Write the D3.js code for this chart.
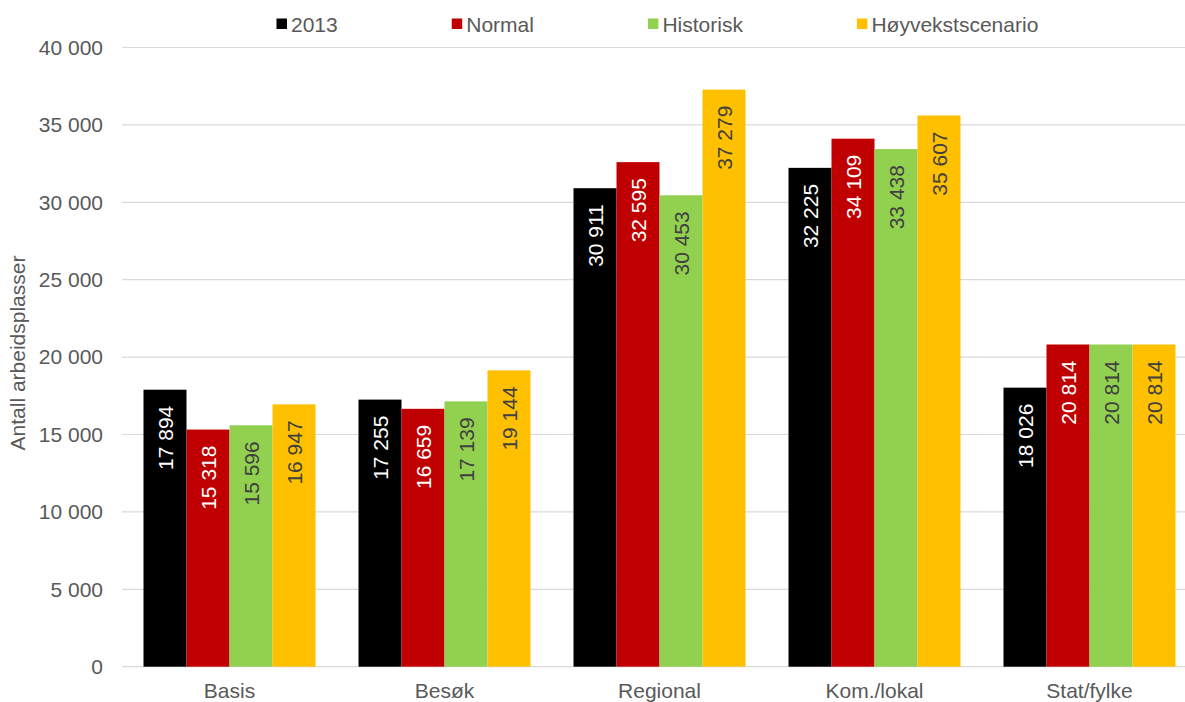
<!DOCTYPE html>
<html>
<head>
<meta charset="utf-8">
<script src="https://cdn.jsdelivr.net/npm/d3@7"></script>
<style>
  html, body { margin: 0; padding: 0; background: #fff; }
  svg { display: block; font-family: "Liberation Sans", Arial, sans-serif; }
</style>
</head>
<body>
<svg id="chart" width="1185" height="702"></svg>
<script>
// Arbeidsplasser per næringstype, 2013 og tre scenarioer
const categories = ["Basis", "Besøk", "Regional", "Kom./lokal", "Stat/fylke"];
const seriesNames = ["2013", "Normal", "Historisk", "Høyvekstscenario"];
const values2013 = [17894, 17255, 30911, 32225, 18026];
const valuesNormal = [15318, 16659, 32595, 34109, 20814];
const valuesHistorisk = [15596, 17139, 30453, 33438, 20814];
const valuesHoyvekst = [16947, 19144, 37279, 35607, 20814];
const yTicks = [0, 5000, 10000, 15000, 20000, 25000, 30000, 35000, 40000];
const yTitle = "Antall arbeidsplasser";

const seriesValues = [values2013, valuesNormal, valuesHistorisk, valuesHoyvekst];
const colors = ["#000000", "#C00000", "#92D050", "#FFC000"];
const labelColors = ["#FFFFFF", "#FFFFFF", "#404040", "#404040"];

const nb = d3.formatLocale({ decimal: ",", thousands: " ", grouping: [3], currency: ["", " kr"] });
const fmt = nb.format(",d");

const svg = d3.select("#chart");
const margin = { left: 122, right: -12, top: 47.5, bottom: 35.3 };
const W = 1185, H = 702;

const x0 = d3.scaleBand()
  .domain(categories)
  .range([margin.left, W - margin.right])
  .paddingInner(0.2)
  .paddingOuter(0.1);

const x1 = d3.scaleBand()
  .domain(seriesNames)
  .range([0, x0.bandwidth()]);

const y = d3.scaleLinear()
  .domain([0, 40000])
  .range([H - margin.bottom, margin.top]);

// gridlines
svg.append("g")
  .selectAll("line")
  .data(yTicks)
  .join("line")
  .attr("x1", margin.left)
  .attr("x2", W - margin.right)
  .attr("y1", d => y(d))
  .attr("y2", d => y(d))
  .attr("stroke", "#D9D9D9")
  .attr("stroke-width", 1.2);

// y axis labels
const yAxis = svg.append("g")
  .attr("transform", `translate(${margin.left},0)`)
  .call(d3.axisLeft(y).tickValues(yTicks).tickFormat(fmt).tickSize(0).tickPadding(19));
yAxis.select(".domain").remove();
yAxis.selectAll("text")
  .attr("fill", "#595959")
  .style("font-size", "21px")
  .style("font-family", "Liberation Sans, Arial, sans-serif");

// x axis labels
const xAxis = svg.append("g")
  .attr("transform", `translate(0,${y(0)})`)
  .call(d3.axisBottom(x0).tickSize(0).tickPadding(0));
xAxis.select(".domain").remove();
xAxis.selectAll("text")
  .attr("fill", "#595959")
  .attr("dy", null)
  .attr("y", 31.5)
  .style("font-size", "21px")
  .style("font-family", "Liberation Sans, Arial, sans-serif");

// bars
const groups = svg.append("g")
  .selectAll("g")
  .data(categories)
  .join("g")
  .attr("transform", d => `translate(${x0(d)},0)`);

const cells = groups.selectAll("g")
  .data((c, ci) => seriesNames.map((s, si) => ({ s, si, v: seriesValues[si][ci] })))
  .join("g");

cells.append("rect")
  .attr("x", d => x1(d.s))
  .attr("width", x1.bandwidth())
  .attr("y", d => y(d.v))
  .attr("height", d => y(0) - y(d.v))
  .attr("fill", d => colors[d.si]);

// value labels, rotated, inside the top of each bar
cells.append("text")
  .attr("transform", d => `translate(${x1(d.s) + x1.bandwidth() / 2},${y(d.v) + 16}) rotate(-90)`)
  .attr("text-anchor", "end")
  .attr("dy", "0.36em")
  .attr("fill", d => labelColors[d.si])
  .style("font-size", "21px")
  .text(d => fmt(d.v));

// legend
const legend = svg.append("g");
let lx = 276.5;
seriesNames.forEach((name, i) => {
  const g = legend.append("g");
  g.append("rect")
    .attr("x", lx).attr("y", 18.5)
    .attr("width", 10.5).attr("height", 10.5)
    .attr("fill", colors[i]);
  const t = g.append("text")
    .attr("x", lx + 14.5).attr("y", 31.5)
    .attr("fill", "#595959")
    .style("font-size", "21px")
    .text(name);
  lx += 14.5 + t.node().getComputedTextLength() + 114;
});

// y axis title
svg.append("text")
  .attr("transform", `translate(25,${353}) rotate(-90)`)
  .attr("text-anchor", "middle")
  .attr("fill", "#595959")
  .style("font-size", "21px")
  .text(yTitle);
</script>
</body>
</html>
